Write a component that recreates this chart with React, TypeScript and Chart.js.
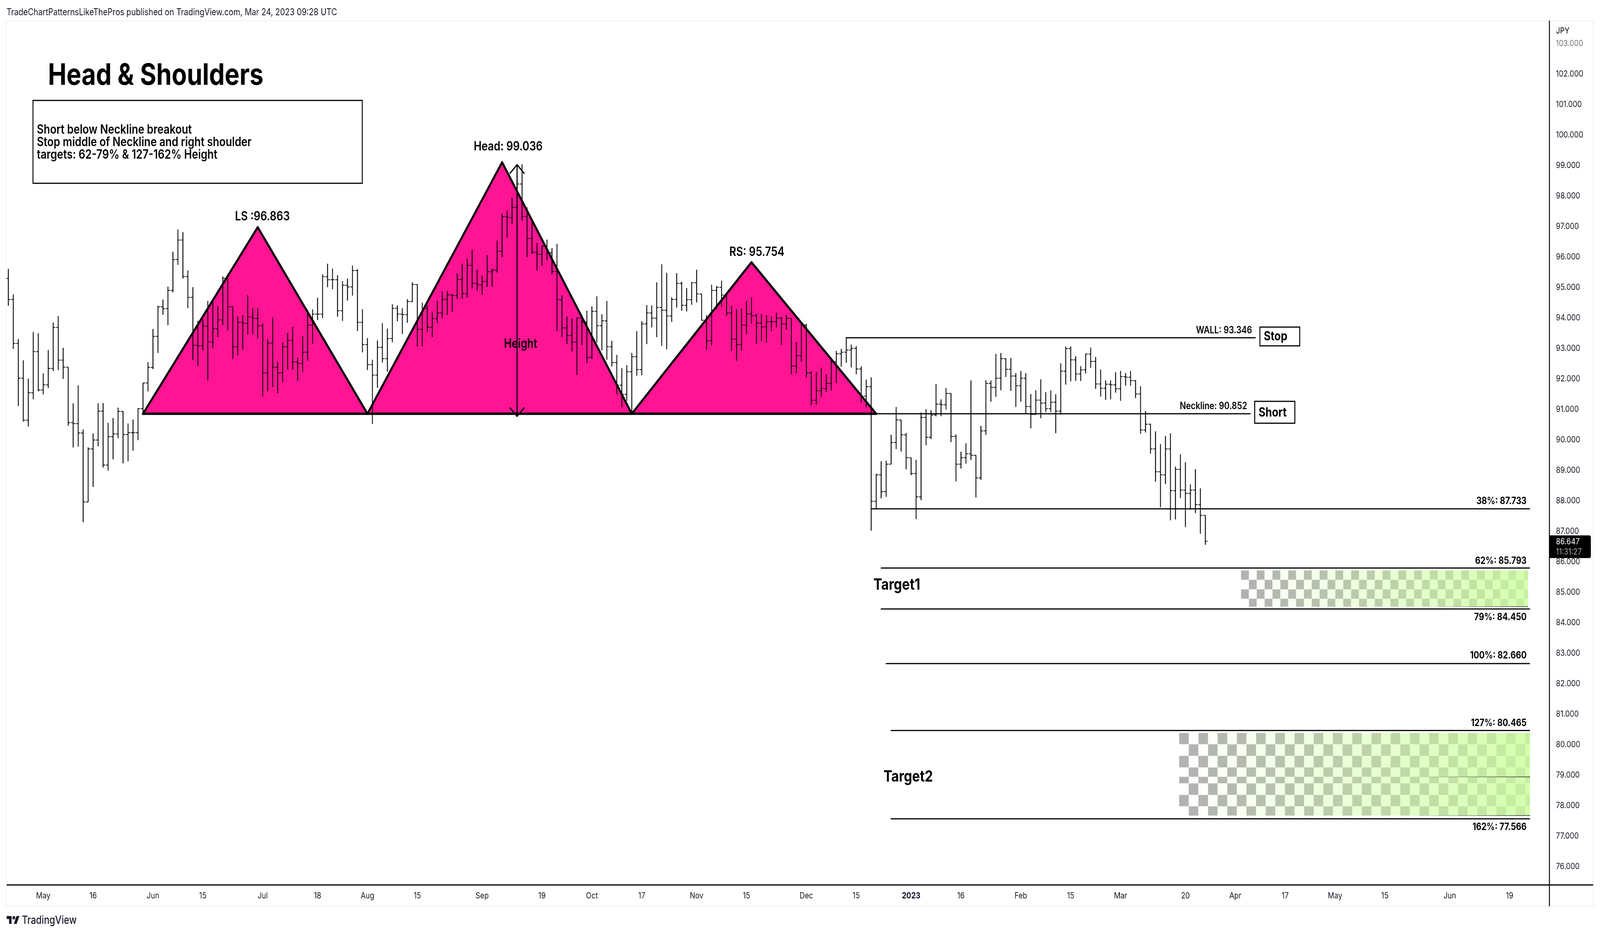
import React, { useEffect, useRef } from "react";
import { Chart, registerables } from "chart.js";

Chart.register(...registerables);

const WIDTH = 4902;
const HEIGHT = 2390;

// daily USDJPY-style bars, one per weekday, index 0 is the first bar on the left
const highs = [
  95.60, 94.76, 93.30, 92.60, 92.00, 93.53, 93.49, 92.17, 92.94, 93.84,
  94.05, 93.01, 92.38, 91.19, 91.78, 90.33, 89.75, 90.20, 91.19, 91.20,
  90.55, 90.71, 91.05, 90.93, 90.53, 90.66, 91.03, 91.86, 92.54, 93.63,
  94.39, 94.59, 95.02, 96.16, 96.89, 96.80, 95.55, 95.00, 93.90, 93.95,
  94.55, 94.55, 94.37, 95.35, 95.32, 94.36, 94.04, 94.08, 94.73, 94.32,
  94.31, 93.80, 93.30, 94.00, 92.54, 93.18, 93.50, 93.70, 92.69, 93.40,
  94.26, 94.27, 94.65, 95.42, 95.77, 95.61, 95.39, 95.20, 95.28, 95.71,
  95.59, 94.28, 93.33, 92.62, 93.25, 93.82, 93.64, 94.44, 94.40, 94.31,
  94.61, 95.16, 95.09, 94.49, 94.39, 94.20, 94.56, 94.86, 94.87, 94.77,
  95.45, 95.77, 95.93, 96.22, 95.57, 95.38, 96.05, 95.60, 96.53, 97.41,
  97.51, 97.93, 98.72, 99.03, 97.62, 97.14, 96.45, 96.37, 96.56, 96.28,
  96.42, 94.73, 94.04, 93.97, 94.00, 94.00, 94.23, 94.37, 94.70, 94.11,
  94.55, 93.24, 92.78, 92.34, 92.44, 92.84, 93.56, 93.89, 94.41, 94.40,
  95.16, 95.75, 95.47, 94.67, 95.46, 95.18, 94.97, 95.16, 95.57, 94.78,
  94.08, 95.08, 95.04, 95.21, 94.75, 94.38, 94.27, 94.31, 94.54, 94.67,
  94.12, 94.12, 94.08, 94.04, 94.16, 94.02, 94.08, 93.98, 93.20, 93.79,
  93.80, 92.25, 92.21, 92.36, 92.14, 92.61, 92.91, 92.98, 93.36, 93.12,
  93.07, 92.40, 91.97, 92.04, 88.88, 89.29, 89.31, 90.16, 91.07, 90.65,
  90.22, 89.41, 89.34, 90.89, 91.00, 90.96, 91.83, 91.32, 91.69, 91.52,
  90.17, 89.60, 89.88, 91.94, 89.49, 90.45, 91.95, 91.94, 92.81, 92.84,
  92.66, 92.68, 92.18, 92.25, 92.18, 91.50, 91.62, 91.98, 91.56, 91.61,
  91.49, 92.50, 93.05, 93.06, 92.74, 92.41, 92.82, 93.02, 92.71, 92.30,
  91.94, 91.94, 92.21, 92.25, 92.18, 92.25, 91.95, 91.75, 90.94, 90.52,
  90.27, 89.85, 90.12, 90.21, 89.11, 89.52, 89.26, 88.53, 89.03, 88.40,
  87.52,
];
const lows = [
  94.40, 92.98, 91.11, 90.60, 90.44, 91.33, 91.59, 91.49, 91.70, 92.26,
  92.29, 92.00, 90.46, 89.75, 89.78, 87.30, 87.96, 88.46, 89.79, 89.09,
  88.99, 89.36, 90.06, 89.23, 89.30, 89.65, 89.99, 90.84, 91.59, 92.32,
  92.85, 94.10, 93.76, 94.84, 95.74, 95.29, 94.32, 92.62, 92.43, 92.94,
  91.95, 93.00, 93.37, 93.77, 93.59, 92.65, 92.77, 92.96, 93.46, 93.47,
  93.33, 91.42, 91.59, 91.73, 91.53, 91.89, 92.31, 92.30, 91.95, 92.23,
  92.60, 93.15, 93.93, 93.99, 95.01, 94.94, 94.04, 93.90, 94.57, 94.73,
  93.57, 92.87, 92.29, 90.52, 91.71, 92.53, 92.24, 93.20, 93.89, 93.47,
  93.84, 94.52, 93.06, 93.07, 93.55, 93.37, 93.83, 93.99, 94.10, 94.19,
  94.62, 94.62, 94.67, 94.97, 94.89, 94.76, 95.02, 95.03, 95.49, 95.99,
  96.63, 97.07, 97.52, 97.19, 95.99, 96.10, 95.55, 95.71, 95.89, 95.43,
  93.56, 93.37, 93.14, 92.90, 92.13, 93.12, 92.51, 92.66, 93.20, 92.93,
  92.63, 92.40, 91.49, 91.07, 91.28, 90.85, 92.10, 92.12, 93.14, 93.69,
  93.37, 93.08, 92.97, 93.87, 94.34, 94.23, 94.21, 94.43, 94.51, 93.91,
  92.96, 93.10, 94.28, 94.36, 94.06, 92.92, 92.60, 92.93, 93.48, 93.81,
  93.15, 93.23, 93.19, 93.56, 93.69, 93.12, 93.61, 92.15, 92.19, 92.56,
  92.05, 91.13, 91.16, 91.42, 91.58, 91.62, 91.86, 92.40, 92.53, 92.38,
  92.15, 91.22, 91.06, 87.02, 87.73, 88.08, 88.13, 89.20, 89.70, 89.62,
  89.03, 88.84, 87.40, 88.02, 89.82, 90.03, 90.77, 90.78, 90.99, 89.93,
  88.64, 89.06, 89.22, 89.34, 88.11, 88.69, 90.16, 91.25, 91.41, 91.63,
  92.06, 91.61, 91.08, 91.25, 90.86, 90.38, 90.82, 90.71, 90.91, 90.91,
  90.22, 90.83, 91.81, 91.92, 91.94, 91.93, 92.18, 92.36, 91.67, 91.42,
  91.31, 91.33, 91.55, 91.28, 91.78, 91.78, 91.37, 90.20, 90.24, 89.55,
  88.63, 87.79, 88.55, 87.36, 87.39, 88.09, 87.14, 87.71, 87.60, 86.92,
  86.56,
];
const closes = [
  94.60, 93.16, 92.02, 90.64, 91.54, 92.89, 91.63, 91.80, 92.34, 93.68,
  92.61, 92.38, 90.56, 90.53, 90.22, 87.96, 89.70, 89.99, 90.94, 89.17,
  90.10, 90.19, 90.93, 90.17, 90.23, 90.23, 91.02, 91.86, 92.37, 93.39,
  94.36, 94.30, 94.90, 95.91, 96.55, 95.35, 94.67, 93.10, 93.08, 93.73,
  93.21, 93.64, 93.93, 95.29, 94.36, 93.05, 93.85, 93.82, 94.03, 93.98,
  93.74, 92.19, 93.17, 92.38, 92.19, 93.05, 93.26, 92.55, 92.50, 92.87,
  93.76, 94.12, 94.12, 95.35, 95.25, 95.25, 94.23, 95.07, 95.01, 95.55,
  93.85, 93.12, 92.46, 92.12, 93.03, 92.66, 93.32, 94.31, 94.12, 94.10,
  94.53, 95.09, 93.62, 94.31, 93.69, 93.97, 94.16, 94.60, 94.75, 94.73,
  95.26, 94.79, 95.72, 95.13, 95.08, 95.19, 95.51, 95.56, 96.18, 97.32,
  97.29, 97.62, 98.39, 97.32, 96.60, 96.15, 96.08, 96.35, 96.13, 95.52,
  94.59, 93.67, 93.42, 93.20, 94.00, 93.86, 92.70, 94.21, 93.74, 93.90,
  93.05, 92.53, 91.79, 91.49, 92.23, 92.72, 92.30, 93.80, 94.16, 93.99,
  94.34, 94.25, 94.06, 94.60, 95.13, 94.41, 94.59, 95.15, 94.78, 93.92,
  93.25, 94.90, 95.00, 94.75, 94.16, 93.30, 93.12, 93.76, 94.13, 94.07,
  93.83, 93.70, 93.87, 93.87, 93.99, 93.80, 93.98, 92.42, 92.76, 93.76,
  92.19, 91.29, 91.61, 91.68, 91.85, 92.56, 92.82, 92.87, 92.94, 93.00,
  92.32, 91.43, 91.74, 87.98, 88.85, 88.30, 89.20, 89.91, 90.65, 90.16,
  89.41, 88.89, 88.13, 90.73, 90.08, 90.81, 91.17, 91.15, 91.52, 90.11,
  89.20, 89.41, 89.54, 89.49, 88.75, 90.29, 91.85, 91.72, 92.02, 92.66,
  92.31, 92.09, 91.77, 92.02, 91.09, 90.83, 91.30, 91.20, 91.02, 91.23,
  90.94, 92.25, 92.99, 92.62, 92.16, 92.29, 92.81, 92.57, 91.83, 91.69,
  91.82, 91.80, 91.67, 92.07, 92.05, 91.94, 91.50, 90.32, 90.51, 89.70,
  88.95, 88.85, 89.70, 88.33, 89.03, 88.35, 88.24, 88.35, 87.87, 87.52,
  86.67,
];
const firstOpen = 95.29;

const timeTickIndex = [7, 17, 29, 39, 51, 62, 72, 82, 95, 107, 117, 127, 138, 148, 160, 170, 181, 191, 203, 213, 223, 236, 246, 256, 266, 276, 289, 301];
const timeTickLabel = ["May", "16", "Jun", "15", "Jul", "18", "Aug", "15", "Sep", "19", "Oct", "17", "Nov", "15", "Dec", "15", "2023", "16", "Feb", "15", "Mar", "20", "Apr", "17", "May", "15", "Jun", "19"];
const priceTicks = [103, 102, 101, 100, 99, 98, 97, 96, 95, 94, 93, 92, 91, 90, 89, 88, 87, 86, 85, 84, 83, 82, 81, 80, 79, 78, 77, 76];

const neckline = 90.852;
const patternIndex = [27, 50, 72, 99, 125, 149, 174];
const patternPeak = [96.97, 99.1, 95.82];

// horizontal levels: value, first bar, last bar
const levelValue = [93.346, 90.852, 87.733, 85.793, 84.45, 82.66, 80.465, 77.566];
const levelStart = [168, 174, 173, 175, 175, 176, 177, 177];
const levelEnd = [250, 249, 305, 305, 305, 305, 305, 305];

const heightIndex = 102;
const heightTop = 99.02;
const heightBottom = 90.77;

const zone1Rows = [85.713, 85.406, 85.092, 84.785, 84.524];
const zone1Span = [247.15, 304.7];
const zone2Rows = [80.384, 80.011, 79.632, 79.252, 78.945, 78.729, 78.35, 77.977, 77.673];
const zone2Span = [234.75, 305.1];
const checkerColumns = 36.5;

const FONT = "Inter";
const annotations = [
  { text: "TradeChartPatternsLikeThePros published on TradingView.com, Mar 24, 2023 09:28 UTC", x: 20, y: 32, font: "400 24px", color: "#131722" },
  { text: "Head & Shoulders", x: 147, y: 194, font: "700 76px" },
  { text: "Short below Neckline breakout", x: 113, y: 332, font: "600 32px" },
  { text: "Stop middle of Neckline and right shoulder", x: 113, y: 364, font: "600 32px" },
  { text: "targets: 62-79% & 127-162% Height", x: 113, y: 396, font: "600 32px" },
  { text: "LS :96.863", x: 804, y: 554, font: "600 32px", align: "center" },
  { text: "Head: 99.036", x: 1557, y: 375, font: "600 32px", align: "center" },
  { text: "RS: 95.754", x: 2319, y: 645, font: "600 32px", align: "center" },
  { text: "Height", x: 1595, y: 880, font: "600 32px", align: "center" },
  { text: "WALL: 93.346", x: 3836, y: 845, font: "600 25px", align: "right" },
  { text: "Neckline: 90.852", x: 3821, y: 1039, font: "600 25px", align: "right" },
  { text: "Stop", x: 3872, y: 861, font: "700 32px" },
  { text: "Short", x: 3856, y: 1056, font: "700 32px" },
  { text: "Target1", x: 2676, y: 1497, font: "700 40px" },
  { text: "Target2", x: 2707, y: 1988, font: "700 40px" },
  { text: "38%: 87.733", x: 4677, y: 1282, font: "700 25px", align: "right" },
  { text: "62%: 85.793", x: 4677, y: 1435, font: "700 25px", align: "right" },
  { text: "79%: 84.450", x: 4677, y: 1579, font: "700 25px", align: "right" },
  { text: "100%: 82.660", x: 4677, y: 1677, font: "700 25px", align: "right" },
  { text: "127%: 80.465", x: 4677, y: 1850, font: "700 25px", align: "right" },
  { text: "162%: 77.566", x: 4677, y: 2116, font: "700 25px", align: "right" },
  { text: "JPY", x: 4767, y: 79, font: "400 22px" },
  { text: "TradingView", x: 67, y: 2356, font: "500 28px", color: "#131722" },
];
const boxes = [
  [101, 257, 1009, 212],
  [3860, 837, 122, 48],
  [3844, 1027, 123, 56],
];

const segment = (x0: number, x1: number, y: number) => [{ x: x0, y }, { x: x1, y }];

const line = (data: { x: number; y: number }[], width: number, order: number, extra = {}) => ({
  type: "line" as const,
  data,
  borderColor: "#000",
  borderWidth: width,
  pointRadius: 0,
  tension: 0,
  borderJoinStyle: "round" as const,
  borderCapStyle: "round" as const,
  order,
  ...extra,
});

const paintZone = (c: Chart, rows: number[], span: number[]) => {
  const { x, y } = c.scales;
  const ctx = c.ctx;
  const left = x.getPixelForValue(span[0]);
  const right = x.getPixelForValue(span[1]);
  const cell = (right - left) / checkerColumns;
  for (let r = 0; r < rows.length - 1; r++) {
    const top = y.getPixelForValue(rows[r]);
    const bottom = y.getPixelForValue(rows[r + 1]);
    for (let col = 0; col < Math.ceil(checkerColumns); col++) {
      const t = col / checkerColumns;
      const dark = (r + col) % 2 === 0;
      const from = dark ? [178, 178, 178] : [255, 255, 255];
      const to = dark ? [199, 240, 160] : [210, 255, 170];
      const rgb = from.map((v, k) => Math.round(v + (to[k] - v) * t));
      ctx.fillStyle = `rgb(${rgb.join(",")})`;
      const x0 = left + col * cell;
      ctx.fillRect(x0, top, Math.min(cell, right - x0), bottom - top);
    }
  }
};

const fadeLine = (c: Chart, x0: number, x1: number, y: number) => {
  const ctx = c.ctx;
  const g = ctx.createLinearGradient(x0, 0, x1, 0);
  g.addColorStop(0, "rgba(0,0,0,0)");
  g.addColorStop(1, "rgba(20,20,40,0.95)");
  ctx.strokeStyle = g;
  ctx.lineWidth = 1.5;
  ctx.beginPath();
  ctx.moveTo(x0, y);
  ctx.lineTo(x1, y);
  ctx.stroke();
};

const framePlugin = {
  id: "frame",
  beforeDatasetsDraw(c: Chart) {
    const ctx = c.ctx;
    ctx.save();
    ctx.strokeStyle = "#f0f3fa";
    ctx.lineWidth = 3;
    ctx.strokeRect(19.5, 53, 4882 - 19.5, 2319 - 53);
    paintZone(c, zone1Rows, zone1Span);
    paintZone(c, zone2Rows, zone2Span);
    fadeLine(c, 4380, 4682, 1552.5);
    fadeLine(c, 4322, 4688, 1988);
    fadeLine(c, 4322, 4688, 2087);
    ctx.restore();
  },
  afterDraw(c: Chart) {
    const ctx = c.ctx;
    ctx.save();
    ctx.strokeStyle = "#000";
    ctx.lineWidth = 3;
    ctx.beginPath();
    ctx.moveTo(20, 2264.5);
    ctx.lineTo(4881, 2264.5);
    ctx.moveTo(4747, 53);
    ctx.lineTo(4747, 2319);
    ctx.stroke();

    ctx.lineWidth = 3;
    boxes.forEach(([bx, by, bw, bh]) => ctx.strokeRect(bx, by, bw, bh));

    ctx.textBaseline = "middle";
    annotations.forEach((a) => {
      ctx.font = `${a.font} ${FONT}`;
      ctx.textAlign = (a.align || "left") as CanvasTextAlign;
      ctx.fillStyle = a.color || "#000";
      ctx.fillText(a.text, a.x, a.y);
    });

    // last price tag
    ctx.fillStyle = "#000";
    ctx.beginPath();
    ctx.roundRect(4747, 1370, 127, 58, [0, 5, 5, 0]);
    ctx.fill();
    ctx.textAlign = "left";
    ctx.font = `400 22px ${FONT}`;
    ctx.fillStyle = "#fff";
    ctx.fillText("86.647", 4767, 1386);
    ctx.fillStyle = "#aaa";
    ctx.fillText("11:31:27", 4767, 1412);

    // TradingView mark
    ctx.translate(20, 2339.6);
    ctx.scale(1.11, 1.11);
    ctx.fillStyle = "#131722";
    ctx.fill(new Path2D("M14 22H7V11H0V4h14v18zM28 22h-8l7.5-18h8L28 22z"));
    ctx.beginPath();
    ctx.arc(20, 8, 4, 0, Math.PI * 2);
    ctx.fill();
    ctx.restore();
  },
};

const App = () => {
  const canvasRef = useRef<HTMLCanvasElement | null>(null);

  useEffect(() => {
    const canvas = canvasRef.current;
    if (!canvas) return;

    const datasets: any[] = [
      {
        type: "bar",
        data: highs.map((h, i) => ({ x: i, y: [lows[i], h] })),
        backgroundColor: "#000",
        barThickness: 2,
        order: 1,
      },
      {
        type: "scatter",
        data: closes.map((v, i) => ({ x: i, y: v })),
        pointStyle: "dash",
        pointRadius: 6.5,
        pointBorderWidth: 2,
        pointBorderColor: "#000",
        order: 1,
      },
      {
        type: "scatter",
        data: [firstOpen, ...closes.slice(0, -1)].map((v, i) => ({ x: i, y: v })),
        pointStyle: "dash",
        pointRadius: 6.5,
        pointRotation: 180,
        pointBorderWidth: 2,
        pointBorderColor: "#000",
        order: 1,
      },
    ];

    // the three pink triangles stand on the neckline
    patternPeak.forEach((peak, k) => {
      datasets.push(
        line(
          [
            { x: patternIndex[k * 2], y: neckline },
            { x: patternIndex[k * 2 + 1], y: peak },
            { x: patternIndex[k * 2 + 2], y: neckline },
          ],
          6,
          10,
          { fill: { value: neckline }, backgroundColor: "#ff1493" }
        )
      );
    });
    datasets.push(line(segment(patternIndex[0], patternIndex[6], neckline), 6, 5));

    levelValue.forEach((v, k) => {
      datasets.push(line(segment(levelStart[k], levelEnd[k], v), 3, 6));
    });

    // Height arrow
    datasets.push(line([{ x: heightIndex, y: heightTop }, { x: heightIndex, y: heightBottom }], 3.5, 4));
    datasets.push(line([{ x: heightIndex - 1.4, y: heightTop - 0.28 }, { x: heightIndex, y: heightTop }, { x: heightIndex + 1.4, y: heightTop - 0.28 }], 3.5, 4));
    datasets.push(line([{ x: heightIndex - 1.4, y: heightBottom + 0.27 }, { x: heightIndex, y: heightBottom }, { x: heightIndex + 1.4, y: heightBottom + 0.27 }], 3.5, 4));

    const chart = new Chart(canvas, {
      type: "bar",
      data: { datasets },
      plugins: [framePlugin],
      options: {
        animation: false,
        responsive: false,
        devicePixelRatio: 1,
        layout: { padding: { left: 20, top: 53, right: 0, bottom: 0 } },
        plugins: { legend: { display: false }, tooltip: { enabled: false } },
        scales: {
          x: {
            type: "linear",
            // bar charts default to offset:true, which widens the linear range
            offset: false,
            min: -0.36,
            max: 308.98,
            grid: { display: false, drawTicks: false, offset: false },
            border: { display: false },
            afterBuildTicks: (s: any) => {
              s.ticks = timeTickIndex.map((v) => ({ value: v }));
            },
            afterFit: (s: any) => {
              s.height = HEIGHT - 2264.5;
              s.paddingLeft = 0;
              s.paddingRight = 0;
            },
            ticks: {
              autoSkip: false,
              maxRotation: 0,
              padding: 15,
              color: "#131722",
              font: (ctx: any) => ({
                family: FONT,
                size: 22,
                weight: ctx.tick && ctx.tick.value === 181 ? 700 : 400,
              }),
              callback: (v: any) => timeTickLabel[timeTickIndex.indexOf(v)],
            },
          },
          y: {
            position: "right",
            min: 75.398,
            max: 103.743,
            grid: { display: false, drawTicks: false },
            border: { display: false },
            afterBuildTicks: (s: any) => {
              s.ticks = priceTicks.map((v) => ({ value: v }));
            },
            afterFit: (s: any) => {
              s.width = WIDTH - 4747;
              s.paddingTop = 0;
              s.paddingBottom = 0;
            },
            ticks: {
              autoSkip: false,
              padding: 20,
              crossAlign: "near",
              color: (ctx: any) => (ctx.tick && ctx.tick.value === 103 ? "#777" : "#131722"),
              font: { family: FONT, size: 22 },
              callback: (v: any) => Number(v).toFixed(3),
            },
          },
        },
      },
    } as any);

    return () => chart.destroy();
  }, []);

  // the page window can be narrower in css pixels than the photograph, so fill it
  return (
    <canvas
      ref={canvasRef}
      width={WIDTH}
      height={HEIGHT}
      style={{ position: "fixed", left: 0, top: 0, width: "100vw", height: "100vh", display: "block" }}
    />
  );
};

export default App;
